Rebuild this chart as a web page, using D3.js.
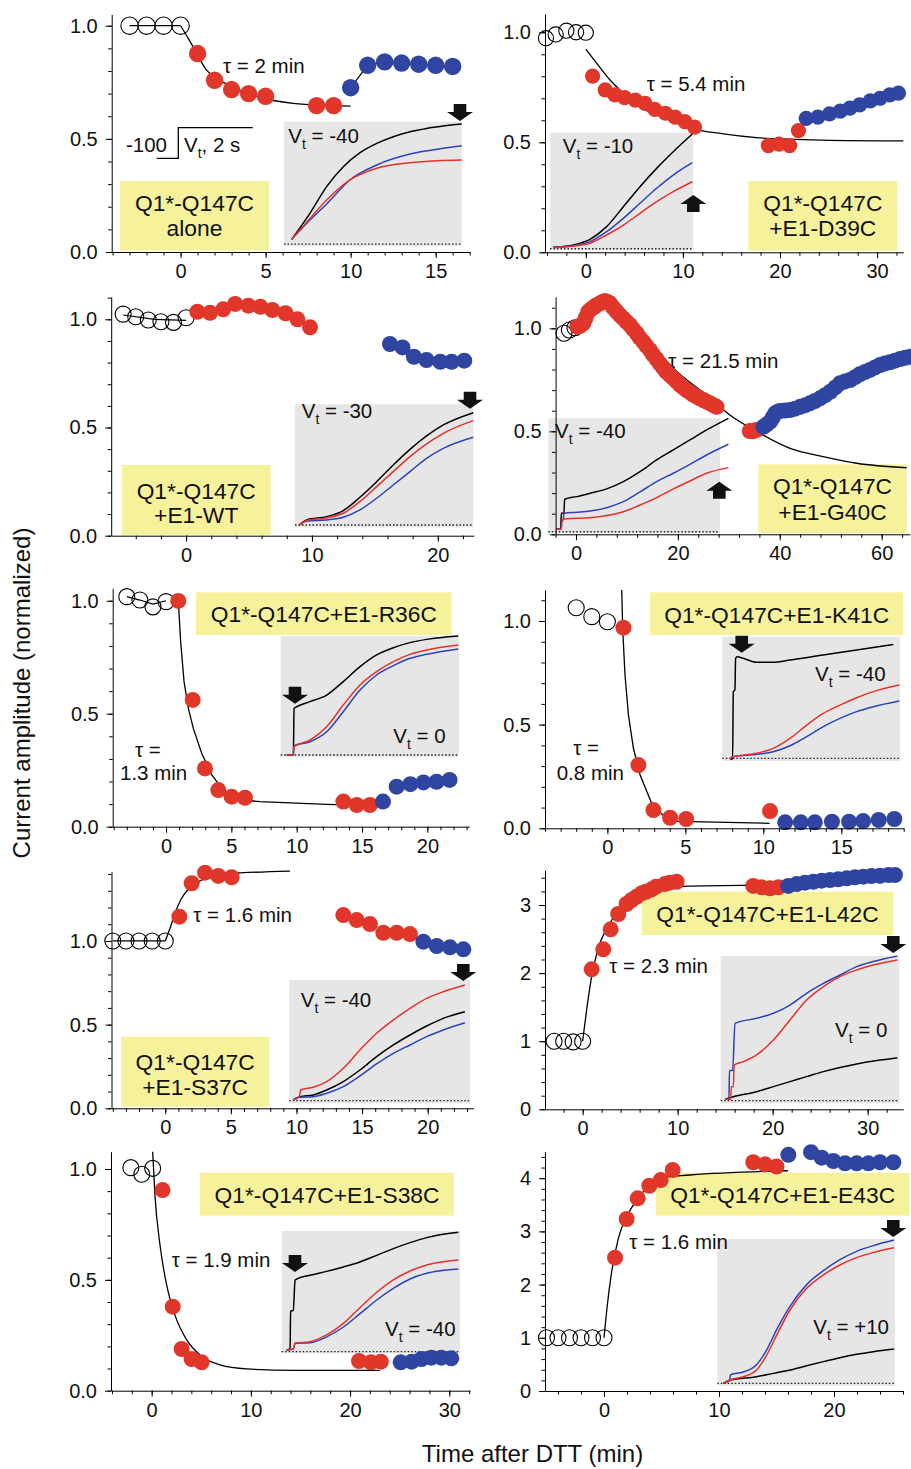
<!DOCTYPE html>
<html><head><meta charset="utf-8">
<script src="https://cdn.jsdelivr.net/npm/d3@7"></script>
<style>
body{margin:0;background:#fff}
svg{display:block}
text{font-family:"Liberation Sans",Arial,Helvetica,sans-serif;fill:#111;white-space:pre}
</style></head>
<body><svg id="c" width="911" height="1469"></svg>
<script>
// ===================== DATA =====================
// Panel 1: Q1*-Q147C alone
const p1_open=[[-3,1.0],[-2,1.0],[-1,1.0],[0,1.0]];
const p1_base=[[-3,1.0],[0,1.0]];
const p1_red=[[1,0.877],[2,0.759],[3,0.718],[4,0.700],[5,0.688],[8,0.647],[9,0.647]];
const p1_blue=[[10,0.726],[11,0.825],[12,0.840],[13,0.835],[14,0.830],[15,0.825],[16,0.820]];
const p1_fit=[[0,1.0],[0.45,0.944],[0.84,0.893],[1.53,0.804],[2.12,0.767],[2.71,0.742],[3.88,0.701],[5.06,0.675],[6.62,0.657],[8.59,0.648],[10,0.645]];
const p1_trK=[[4.3,5.1],[14.6,26.1],[24,47.6],[33.4,63.7],[42.8,75],[52.2,82.5],[61.5,87.9],[70.9,91.9],[80.3,94.6],[89.7,96.5],[100,98.1]];
const p1_trB=[[4.3,5.1],[14.6,20.7],[24,33.6],[37.1,53],[52.2,65.1],[70.9,73.9],[89.7,78.5],[100,80.6]];
const p1_trR=[[4.3,5.1],[14.6,22],[24,36.8],[37.1,53],[52.2,62.4],[70.9,66.9],[85.9,68.5],[100,69.1]];
const p1_xt=[0,5,10,15], p1_yt=[0,0.5,1.0];

// Panel 2: +E1-D39C
const p2_open=[[-4.1,0.973],[-3.1,0.99],[-2,1.007],[-1,1.0],[0,0.998]];
const p2_base=[];
const p2_red=[[0.7,0.801],[2.0,0.738],[3.0,0.715],[4.0,0.703],[5.1,0.692],[6.1,0.677],[7.1,0.65],[8.2,0.632],[9.2,0.614],[10.2,0.594],[11.2,0.569],[18.8,0.485],[19.9,0.492],[21.0,0.485],[21.9,0.553]];
const p2_blue=[[22.7,0.609],[23.9,0.614],[25.1,0.629],[26.2,0.642],[27.2,0.655],[28.2,0.67],[29.3,0.688],[30.3,0.70],[31.3,0.715],[32.2,0.723]];
const p2_fit=[[0,0.923],[1.13,0.859],[2.5,0.783],[3.87,0.723],[5.59,0.659],[7.3,0.624],[9.0,0.594],[10.7,0.566],[14.2,0.538],[17.6,0.521],[21.0,0.514],[24.4,0.51],[32.7,0.506]];
const p2_trK=[[2.3,2.3],[16.3,4.3],[27.9,9.1],[39.5,19.9],[51.2,36.9],[62.8,54],[74.4,69.6],[86,83.8],[99.3,98.9]];
const p2_trB=[[2.3,2.3],[16.3,3.7],[27.9,7.1],[39.5,15.6],[51.2,27],[62.8,39.8],[74.4,52.6],[86,63.9],[99.3,74.4]];
const p2_trR=[[2.3,2.0],[16.3,3.4],[27.9,5.7],[39.5,12.8],[51.2,21.3],[62.8,31.3],[74.4,41.2],[86,49.7],[99.3,58.2]];
const p2_xt=[0,10,20,30], p2_yt=[0,0.5,1.0];

// Panel 3: +E1-WT
const p3_open=[[-5,1.024],[-4,1.012],[-3,0.997],[-2,0.989],[-1,0.986],[0,1.007]];
const p3_base=[[-5,1.02],[-2.5,1.0],[0,0.995]];
const p3_red=[[0.9,1.035],[1.9,1.03],[2.95,1.046],[3.9,1.071],[4.95,1.063],[5.9,1.058],[6.85,1.043],[7.9,1.028],[8.85,1.0],[9.85,0.963]];
const p3_blue=[[16.2,0.886],[17.2,0.87],[18.1,0.827],[19.1,0.812],[20.2,0.804],[21.1,0.804],[22.1,0.809]];
const p3_fit=[];
const p3_trK=[[2.4,1.9],[6.5,6.0],[17.8,8.7],[27.1,13.6],[36.4,24.4],[45.8,37.1],[55.1,50.7],[64.5,63.4],[73.8,74.3],[83.2,83.2],[100,93.2]];
const p3_trR=[[2.4,1.9],[6.5,5.4],[17.8,7.6],[27.1,11.4],[36.4,20.9],[45.8,33.1],[55.1,45.3],[64.5,57.5],[73.8,67.8],[83.2,76.4],[100,86.7]];
const p3_trB=[[2.4,1.9],[6.5,4.9],[17.8,6.0],[27.1,8.1],[36.4,14.1],[45.8,23.6],[55.1,34.4],[64.5,45.3],[73.8,56.1],[83.2,64.2],[100,73.2]];
const p3_xt=[0,10,20], p3_yt=[0,0.5,1.0];

// Panel 4: +E1-G40C (densely sampled record)
const p4_open=[[-2.36,0.976],[-1.3,0.992],[-0.2,1.003]];
const p4_base=[];
const p4_red=[[0.26,1.008],[0.8,1.012],[1.44,1.024],[1.9,1.05],[2.42,1.081],[2.9,1.092],[3.4,1.10],[4.0,1.112],[4.71,1.121],[5.2,1.128],[5.69,1.133],[6.2,1.128],[6.67,1.121],[7.3,1.10],[7.98,1.081],[8.6,1.064],[9.29,1.048],[9.9,1.032],[10.6,1.016],[11.2,0.996],[11.9,0.976],[12.5,0.955],[13.2,0.935],[13.8,0.915],[14.5,0.895],[15.1,0.873],[15.8,0.851],[16.4,0.83],[17.1,0.809],[17.7,0.79],[18.4,0.773],[19.1,0.757],[19.8,0.741],[20.4,0.726],[21.1,0.712],[21.7,0.70],[22.4,0.689],[23.0,0.678],[23.7,0.668],[24.3,0.66],[25.0,0.652],[25.6,0.644],[26.3,0.636],[26.9,0.628],[27.6,0.619],[34.1,0.501],[34.7,0.50],[35.4,0.506]];
const p4_blue=[[36.8,0.522],[37.4,0.532],[38.1,0.547],[38.6,0.567],[39.1,0.587],[39.5,0.594],[40.0,0.598],[41.0,0.601],[42.0,0.603],[43.0,0.61],[44.0,0.619],[45.0,0.627],[45.9,0.636],[46.9,0.647],[47.9,0.66],[48.9,0.675],[49.9,0.692],[50.9,0.713],[51.8,0.733],[52.8,0.742],[53.8,0.749],[54.8,0.763],[55.7,0.777],[56.7,0.788],[57.7,0.798],[58.7,0.81],[59.7,0.822],[60.6,0.829],[61.6,0.835],[62.6,0.843],[63.6,0.851],[64.6,0.857],[65.6,0.862]];
const p4_fit=[[7.3,1.153],[12.56,1.0],[19.1,0.806],[25.6,0.676],[30.2,0.579],[35.5,0.498],[42,0.417],[48.5,0.377],[55.1,0.345],[64.9,0.323]];
const p4_trK=[[4.9,3.8],[7.2,3.8],[7.6,17.4],[9.1,17.4],[9.5,29.6],[16.5,31.9],[24.3,34.8],[34,38.6],[43.7,44.9],[53.4,53.6],[63.1,63.8],[72.8,72.5],[82.5,81.2],[92.2,89.9],[104.9,100]];
const p4_trB=[[4.9,3.8],[7.6,3.8],[7.9,11.6],[8.7,11.6],[9.1,17.4],[16.5,18.3],[24.3,19.4],[34,22.3],[43.7,27.5],[53.4,36],[63.1,44.9],[72.8,52.2],[82.5,60],[92.2,68.1],[104.9,77.4]];
const p4_trR=[[4.9,3.8],[7.5,3.8],[7.8,9.6],[9.1,12.5],[16.5,13],[24.3,13.6],[34,15.4],[43.7,18.8],[53.4,24.6],[63.1,31],[72.8,38.6],[82.5,45.5],[92.2,52.2],[104.9,57.1]];
const p4_xt=[0,20,40,60], p4_yt=[0,0.5,1.0];

// Panel 5: +E1-R36C
const p5_open=[[-3,1.018],[-2,1.003],[-1,0.973],[0,0.996]];
const p5_base=[[-3,1.018],[-2,1.003],[-1,0.985],[0,1.0]];
const p5_red=[[0.94,0.999],[2.04,0.561],[2.98,0.258],[4.0,0.162],[5.02,0.133],[6.04,0.128],[13.57,0.111],[14.6,0.096],[15.6,0.096]];
const p5_blue=[[16.6,0.111],[17.65,0.177],[18.7,0.188],[19.7,0.196],[20.7,0.199],[21.7,0.207]];
const p5_fit=[[0.94,1.0],[1.12,0.819],[1.38,0.642],[1.71,0.524],[2.09,0.435],[2.73,0.325],[3.5,0.229],[4.38,0.162],[4.95,0.14],[5.02,0.123],[7.19,0.111],[12.3,0.099],[15.6,0.093]];
const p5_trK=[[3.4,1.4],[7.1,1.4],[7.5,40.1],[9.0,41.4],[16.4,45.6],[25.8,51.1],[35.1,62.2],[44.5,74.6],[53.8,84.3],[63.2,90.3],[72.5,94.5],[81.9,97.2],[99.6,100]];
const p5_trR=[[3.4,1.4],[7.1,1.4],[7.5,8.3],[16.4,13.8],[25.8,24.9],[35.1,42.8],[44.5,59.4],[53.8,70.4],[63.2,78.7],[72.5,84.8],[81.9,88.4],[99.6,92.5]];
const p5_trB=[[3.4,1.4],[7.1,1.4],[7.5,9.1],[16.4,12.4],[25.8,20.7],[35.1,37.3],[44.5,55.2],[53.8,67.7],[63.2,75.4],[72.5,81.5],[81.9,84.8],[99.6,89.2]];
const p5_xt=[0,5,10,15,20], p5_yt=[0,0.5,1.0];

// Panel 6: +E1-K41C
const p6_open=[[-2,1.064],[-1,1.021],[0,0.996]];
const p6_base=[];
const p6_red=[[1.03,0.968],[1.99,0.305],[2.95,0.088],[4.02,0.051],[5.05,0.045],[10.43,0.083]];
const p6_blue=[[11.4,0.029],[12.4,0.029],[13.3,0.029],[14.4,0.032],[15.5,0.032],[16.4,0.035],[17.4,0.04],[18.4,0.045]];
const p6_fit=[[0.92,1.15],[0.98,0.964],[1.13,0.74],[1.35,0.546],[1.67,0.386],[2.1,0.257],[2.53,0.177],[2.95,0.1],[3.59,0.064],[4.02,0.035],[5.3,0.032],[10.4,0.024]];
const p6_trK=[[4.3,1.6],[5.8,1.6],[6.2,55.8],[7.1,57.1],[7.5,82.6],[8.4,83.9],[11.8,82.6],[19.3,79.4],[28.7,79.4],[38.1,81.2],[56.8,85.3],[75.6,89.3],[96.2,93.8]];
const p6_trR=[[4.3,1.6],[5.8,3.5],[15.6,5.4],[28.7,10.2],[38.1,18.2],[47.5,28.9],[56.8,38.3],[66.2,45],[75.6,50.9],[85,55.8],[99.6,61.1]];
const p6_trB=[[4.3,1.6],[5.8,3.5],[15.6,4.8],[28.7,7.5],[38.1,12.3],[47.5,19.6],[56.8,27.6],[66.2,34.3],[75.6,39.7],[85,43.7],[99.6,48.3]];
const p6_xt=[0,5,10,15], p6_yt=[0,0.5,1.0];

// Panel 7: +E1-S37C
const p7_open=[[-4,1],[-3,1],[-2,1],[-1,1],[0,1]];
const p7_base=[[-4,1],[0,1]];
const p7_red=[[1.07,1.145],[2.01,1.345],[3.03,1.408],[4.04,1.389],[5.06,1.381],[13.57,1.155],[14.59,1.125],[15.6,1.101],[16.62,1.049],[17.64,1.049],[18.65,1.041]];
const p7_blue=[[19.67,0.996],[20.69,0.97],[21.7,0.962],[22.72,0.95]];
const p7_fit=[[0,1.0],[0.36,1.076],[0.74,1.166],[1.17,1.245],[1.75,1.309],[2.39,1.348],[3.16,1.375],[3.92,1.384],[4.12,1.4],[5.95,1.408],[9.5,1.418]];
const p7_trK=[[2.2,2.7],[5.9,5.4],[13.3,6.8],[20.7,10.8],[29.9,17.6],[39.1,27],[48.3,37.8],[57.6,47.3],[66.8,55.4],[76,62.7],[85.2,68.9],[97.2,74.3]];
const p7_trR=[[2.2,2.7],[5.5,5.4],[6.3,10.8],[13.3,13],[20.7,17.6],[29.9,28.4],[39.1,43.2],[48.3,56.8],[57.6,67.6],[66.8,77],[76,85.1],[85.2,90.5],[97.2,95.9]];
const p7_trB=[[2.2,2.7],[5,4.9],[13.3,5.4],[20.7,8.1],[29.9,13.5],[39.1,22.2],[48.3,31.9],[57.6,40.5],[66.8,47.3],[76,54.1],[85.2,59.5],[97.2,65.4]];
const p7_xt=[0,5,10,15,20], p7_yt=[0,0.5,1.0];

// Panel 8: +E1-L42C
const p8_open=[[-3,1],[-2,1],[-1,0.99],[0,1]];
const p8_base=[];
const p8_red=[[0.95,2.056],[2.17,2.35],[2.95,2.643],[3.75,2.868],[4.63,3.015],[5.16,3.074],[5.68,3.122],[6.21,3.172],[6.66,3.195],[7.26,3.231],[7.72,3.269],[8.66,3.308],[9.19,3.328],[9.89,3.342],[17.96,3.28],[18.84,3.26],[19.72,3.245],[20.6,3.26]];
const p8_blue=[[21.64,3.28],[22.53,3.308],[23.4,3.328],[24.28,3.342],[25.16,3.357],[26.03,3.367],[26.9,3.377],[27.8,3.392],[28.66,3.407],[29.54,3.416],[30.4,3.426],[31.3,3.43],[32.2,3.441],[32.87,3.441]];
const p8_fit=[[0,1.0],[0.42,1.458],[0.95,1.947],[1.64,2.364],[2.53,2.657],[3.58,2.877],[4.98,3.073],[6.74,3.195],[8.49,3.26],[11.3,3.279],[21.1,3.294]];
const p8_trK=[[2.4,2.7],[7.1,4.5],[20.1,7.9],[29.5,11.3],[38.8,14.7],[48.1,18.1],[57.5,21.5],[66.8,24.3],[76.1,26.7],[87.3,29],[98.9,31]];
const p8_trR=[[2.4,2.7],[5.6,2.7],[5.9,11.3],[7.1,11.3],[7.5,26],[12.7,28.3],[20.1,32.8],[29.5,43],[38.8,56.6],[48.1,70.1],[57.5,79.2],[66.8,86],[76.1,90.5],[85.4,93.9],[98.9,97.3]];
const p8_trB=[[2.4,2.7],[4.6,2.7],[4.9,22.2],[6.7,22.2],[8.0,54.3],[20.1,57.7],[29.5,61.1],[38.8,66.7],[48.1,74.7],[57.5,81.4],[66.8,87.1],[76.1,92.8],[85.4,96.2],[98.9,100]];
const p8_xt=[0,10,20,30], p8_yt=[0,1,2,3];

// Panel 9: +E1-S38C
const p9_open=[[-2.1,1.006],[-1,0.976],[0.1,1.003]];
const p9_base=[];
const p9_red=[[1.1,0.905],[2.12,0.379],[3.02,0.188],[4.03,0.143],[5.04,0.128],[20.9,0.134],[22.1,0.128],[23.1,0.131]];
const p9_blue=[[25.1,0.128],[26.2,0.131],[27.2,0.143],[28.2,0.149],[29.2,0.149],[30.2,0.146]];
const p9_fit=[[0.1,1.078],[0.33,0.883],[0.84,0.657],[1.51,0.477],[2.35,0.341],[3.53,0.229],[4.87,0.161],[6.89,0.116],[9.58,0.098],[14.3,0.092],[23.0,0.092]];
const p9_trK=[[2.8,2.7],[4.7,3.5],[5.0,34.3],[6.5,35.1],[7.5,59.7],[8.8,61],[15.9,63.8],[25.2,67],[34.6,70.6],[43.9,74.7],[53.3,80.1],[62.6,85.6],[72,90.5],[81.3,94.6],[99.1,98.9]];
const p9_trR=[[2.8,2.7],[6.5,3.5],[7.5,8.2],[15.9,9.5],[25.2,15],[34.6,24.5],[43.9,37.3],[53.3,49.9],[62.6,60],[72,67.3],[81.3,72.2],[99.1,76.3]];
const p9_trB=[[2.8,2.7],[6.5,3.5],[7.5,8.2],[15.9,8.7],[25.2,13.4],[34.6,21.5],[43.9,32.4],[53.3,43.6],[62.6,53.1],[72,60.8],[81.3,65.4],[99.1,68.9]];
const p9_xt=[0,10,20,30], p9_yt=[0,0.5,1.0];

// Panel 10: +E1-E43C
const p10_open=[[-5,1],[-4,1],[-3,1],[-2,1],[-1,1],[0,1]];
const p10_base=[];
const p10_red=[[0.96,2.506],[1.97,3.233],[2.93,3.621],[3.94,3.858],[4.93,3.965],[5.97,4.153],[12.98,4.3],[14.0,4.26],[15.0,4.22]];
const p10_blue=[[16.03,4.44],[18.0,4.49],[18.93,4.385],[19.94,4.323],[20.96,4.28],[21.97,4.28],[22.99,4.28],[24.0,4.3],[25.16,4.3]];
const p10_fit=[[0,1.0],[0.29,1.617],[0.67,2.243],[1.25,2.87],[1.97,3.276],[2.84,3.59],[3.71,3.81],[4.72,3.934],[4.93,4.01],[7.48,4.06],[16.0,4.14]];
const p10_trK=[[3.4,1.6],[7.1,3.9],[22.1,6.1],[31.5,8.4],[40.9,10.7],[50.3,13.6],[59.7,16.4],[69,19.1],[78.4,21.4],[87.8,23.2],[99.4,25]];
const p10_trR=[[3.4,1.6],[7.1,3.9],[14.6,6.1],[22.1,10.7],[27.8,20.9],[33.4,34.5],[40.9,51.6],[50.3,66.4],[59.7,75.5],[69,82.3],[78.4,87.3],[87.8,90.9],[99.4,94.1]];
const p10_trB=[[3.4,1.6],[6.8,3.2],[7.5,7.5],[14.6,9.3],[22.1,14.3],[27.8,24.5],[33.4,38.2],[40.9,54.1],[50.3,68.9],[59.7,78.4],[69,85.9],[78.4,91.6],[87.8,95.5],[99.4,99.3]];
const p10_xt=[0,10,20], p10_yt=[0,1,2,3,4];

// ===================== LAYOUT =====================
const RED='#e1362a', BLUE='#2f45a1', YEL='#f6f29c', GRAY='#e6e6e6', TRED='#e8302a', TBLUE='#2c42bd';
const F_TICK=20, F_LBL=22.8, F_ANN=20.5, F_TITLE=24;

const panels=[
 {d:{open:p1_open,base:p1_base,red:p1_red,blue:p1_blue,fit:p1_fit,trK:p1_trK,trB:p1_trB,trR:p1_trR,xt:p1_xt,yt:p1_yt},
  px:[111.7,469.7],py:[252,14.4],xDom:[-4.05,17],yDom:[0,1.05],xm:1,ym:0.1,fmt:'.1f',r:8.7,blueLine:true,
  inset:[284,121.7,461.7,245.7],dot:1.3,box:[120,181,269,250.7],lines:['Q1*-Q147C','alone'],base:[211,235.5],
  tau:[['τ = 2 min',223,72.7]],vt:['-40',288.3,143.3],arrow:[460,104,'down']},
 {d:{open:p2_open,base:p2_base,red:p2_red,blue:p2_blue,fit:p2_fit,trK:p2_trK,trB:p2_trB,trR:p2_trR,xt:p2_xt,yt:p2_yt},
  px:[545,903.3],py:[252.3,14],xDom:[-4.2,32.7],yDom:[0,1.083],xm:2,ym:0.1,fmt:'.1f',r:7.6,
  inset:[550,132.7,693.3,250],dot:1.1,box:[748.3,181,897.3,250.7],lines:['Q1*-Q147C','+E1-D39C'],base:[211,235.5],
  tau:[['τ = 5.4 min',646.7,90.7]],vt:['-10',562.7,153.3],arrow:[693.3,195,'up']},
 {d:{open:p3_open,base:p3_base,red:p3_red,blue:p3_blue,fit:p3_fit,trK:p3_trK,trB:p3_trB,trR:p3_trR,xt:p3_xt,yt:p3_yt},
  px:[111.2,473.8],py:[535.7,296.8],xDom:[-5.95,22.86],yDom:[0,1.104],xm:2,ym:0.1,fmt:'.1f',r:8,
  inset:[295,404.3,473.3,527.3],dot:1.9,box:[121.7,465,270.7,535],lines:['Q1*-Q147C','+E1-WT'],base:[498.5,523],
  tau:[],vt:['-30',301.7,418.3],arrow:[470,391.7,'down']},
 {d:{open:p4_open,base:p4_base,red:p4_red,blue:p4_blue,fit:p4_fit,trK:p4_trK,trB:p4_trB,trR:p4_trR,xt:p4_xt,yt:p4_yt},
  px:[555.6,909.7],py:[534.3,296.8],xDom:[-4,65.5],yDom:[0,1.153],xm:4,ym:0.1,fmt:'.1f',r:8,
  inset:[548.3,418.3,720,533.3],dot:1.4,box:[758.3,464.3,906.7,533.3],lines:['Q1*-Q147C','+E1-G40C'],base:[493.5,519.5],
  tau:[['τ = 21.5 min',668.3,367.7]],vt:['-40',555,438.3],arrow:[719.3,481.7,'up']},
 {d:{open:p5_open,base:p5_base,red:p5_red,blue:p5_blue,fit:p5_fit,trK:p5_trK,trB:p5_trB,trR:p5_trR,xt:p5_xt,yt:p5_yt},
  px:[112.7,469.2],py:[826.7,588.3],xDom:[-4.08,23.2],yDom:[0,1.055],xm:1,ym:0.1,fmt:'.1f',r:8,linearFit:true,
  inset:[280.7,636,459,756.7],dot:1.4,box:[196,592.3,451.7,635],lines:['Q1*-Q147C+E1-R36C'],base:[621.7],
  tau:[['τ =',135,756.7],['1.3 min',120,780]],vt:['0',393.3,743.3],arrow:[295,686.7,'down']},
 {d:{open:p6_open,base:p6_base,red:p6_red,blue:p6_blue,fit:p6_fit,trK:p6_trK,trB:p6_trB,trR:p6_trR,xt:p6_xt,yt:p6_yt},
  px:[545,903.7],py:[828.3,589.9],xDom:[-4,19],yDom:[0,1.15],xm:1,ym:0.1,fmt:'.1f',r:8,linearFit:true,
  inset:[722.3,636.7,900,761],dot:2.1,box:[650,592.3,903.3,635],lines:['Q1*-Q147C+E1-K41C'],base:[623],
  tau:[['τ =',573.3,755],['0.8 min',556.7,780]],vt:['-40',815,681],arrow:[741.7,635.7,'down']},
 {d:{open:p7_open,base:p7_base,red:p7_red,blue:p7_blue,fit:p7_fit,trK:p7_trK,trB:p7_trB,trR:p7_trR,xt:p7_xt,yt:p7_yt},
  px:[111.5,473.6],py:[1108.3,871.7],xDom:[-4.1,23.5],yDom:[0,1.414],xm:1,ym:0.1,fmt:'.1f',r:8,
  inset:[289.3,980,470,1103.3],dot:2.2,box:[121,1036.7,269.3,1106.7],lines:['Q1*-Q147C','+E1-S37C'],base:[1069.5,1095],
  tau:[['τ = 1.6 min',193.3,921.7]],vt:['-40',300.7,1006.7],arrow:[463.3,964,'down']},
 {d:{open:p8_open,base:p8_base,red:p8_red,blue:p8_blue,fit:p8_fit,trK:p8_trK,trB:p8_trB,trR:p8_trR,xt:p8_xt,yt:p8_yt},
  px:[545,903.3],py:[1109.3,870.3],xDom:[-3.96,33.75],yDom:[0,3.51],xm:2,ym:0.2,fmt:'d',r:8,
  inset:[720.7,956,899.3,1103.3],dot:1.8,box:[641.7,891.7,893.3,935],lines:['Q1*-Q147C+E1-L42C'],base:[922],
  tau:[['τ = 2.3 min',609.3,973.3]],vt:['0',835,1036.7],arrow:[893.3,936,'down']},
 {d:{open:p9_open,base:p9_base,red:p9_red,blue:p9_blue,fit:p9_fit,trK:p9_trK,trB:p9_trB,trR:p9_trR,xt:p9_xt,yt:p9_yt},
  px:[111,470.1],py:[1390.7,1151.7],xDom:[-4.1,32.1],yDom:[0,1.078],xm:2,ym:0.1,fmt:'.1f',r:8,
  inset:[281.7,1231,460,1353.3],dot:1.4,box:[200,1172.7,454,1215.7],lines:['Q1*-Q147C+E1-S38C'],base:[1203],
  tau:[['τ = 1.9 min',171.7,1266.7]],vt:['-40',385,1335.7],arrow:[295,1255,'down']},
 {d:{open:p10_open,base:p10_base,red:p10_red,blue:p10_blue,fit:p10_fit,trK:p10_trK,trB:p10_trB,trR:p10_trR,xt:p10_xt,yt:p10_yt},
  px:[545,903],py:[1391,1151.6],xDom:[-5.13,26],yDom:[0,4.5],xm:2,ym:0.2,fmt:'d',r:8,
  inset:[717.3,1239,895,1385.7],dot:1.6,box:[656,1172.7,909.3,1215.7],lines:['Q1*-Q147C+E1-E43C'],base:[1203],
  tau:[['τ = 1.6 min',629.3,1249]],vt:['+10',813.3,1334.3],arrow:[893.3,1220,'down']}
];

// ===================== DRAW =====================
const svg=d3.select('#c');

function arrowPath(cx,ty,dir){
  const sw=6.3,hw=13,sh=8,hh=9;
  if(dir==='down') return `M${cx-sw},${ty}H${cx+sw}V${ty+sh}H${cx+hw}L${cx},${ty+sh+hh}L${cx-hw},${ty+sh}H${cx-sw}Z`;
  return `M${cx},${ty}L${cx+hw},${ty+hh}H${cx+sw}V${ty+hh+sh}H${cx-sw}V${ty+hh}H${cx-hw}Z`;
}

panels.forEach(P=>{
  const D=P.d;
  const g=svg.append('g');
  const x=d3.scaleLinear().domain(P.xDom).range(P.px);
  const y=d3.scaleLinear().domain(P.yDom).range(P.py);
  const ix=d3.scaleLinear().domain([0,100]).range([P.inset[0],P.inset[2]]);
  const iy=d3.scaleLinear().domain([0,100]).range([P.inset[3],P.inset[1]]);

  // yellow label box
  g.append('rect').attr('x',P.box[0]).attr('y',P.box[1]).attr('width',P.box[2]-P.box[0]).attr('height',P.box[3]-P.box[1]).attr('fill',YEL);
  P.lines.forEach((t,i)=>g.append('text').attr('x',(P.box[0]+P.box[2])/2).attr('y',P.base[i]).attr('text-anchor','middle').attr('font-size',F_LBL).text(t));

  // inset
  g.append('rect').attr('x',P.inset[0]).attr('y',P.inset[1]).attr('width',P.inset[2]-P.inset[0]).attr('height',P.inset[3]-P.inset[1]).attr('fill',GRAY);
  const lin=d3.line().x(d=>ix(d[0])).y(d=>iy(d[1]));
  g.append('path').attr('d',lin([[0,P.dot],[99.5,P.dot]])).attr('stroke','#222').attr('stroke-width',1.4).attr('stroke-dasharray','1.5,2').attr('fill','none');
  const tl=d3.line().x(d=>ix(d[0])).y(d=>iy(d[1])).curve(d3.curveMonotoneX);
  [[D.trK,'#000'],[D.trB,TBLUE],[D.trR,TRED]].forEach(([dd,c])=>
    g.append('path').attr('d',tl(dd)).attr('fill','none').attr('stroke',c).attr('stroke-width',1.5));
  const vt=g.append('text').attr('x',P.vt[1]).attr('y',P.vt[2]).attr('font-size',F_ANN);
  vt.append('tspan').text('V');
  vt.append('tspan').attr('font-size',14).attr('dy',6).text('t');
  vt.append('tspan').attr('dy',-6).text(' = '+P.vt[0]);
  g.append('path').attr('d',arrowPath(P.arrow[0],P.arrow[1],P.arrow[2])).attr('fill','#111');

  // tau annotation (beneath circles)
  P.tau.forEach(t=>g.append('text').attr('x',t[1]).attr('y',t[2]).attr('font-size',F_ANN).text(t[0]));

  // lines
  const dl=d3.line().x(d=>x(d[0])).y(d=>y(d[1]));
  const fl=d3.line().x(d=>x(d[0])).y(d=>y(d[1])).curve(P.linearFit?d3.curveLinear:d3.curveMonotoneX);
  if(D.fit.length) g.append('path').attr('d',fl(D.fit)).attr('fill','none').attr('stroke','#000').attr('stroke-width',1.3);
  if(D.base.length) g.append('path').attr('d',dl(D.base)).attr('fill','none').attr('stroke','#000').attr('stroke-width',1.2);
  if(P.blueLine) g.append('path').attr('d',dl(D.blue)).attr('fill','none').attr('stroke','#000').attr('stroke-width',1.2);

  // circles
  g.selectAll('.o').data(D.open).join('circle').attr('cx',d=>x(d[0])).attr('cy',d=>y(d[1])).attr('r',P.r)
    .attr('fill','none').attr('stroke','#000').attr('stroke-width',1.1);
  g.selectAll('.rd').data(D.red).join('circle').attr('cx',d=>x(d[0])).attr('cy',d=>y(d[1])).attr('r',P.r).attr('fill',RED);
  g.selectAll('.bl').data(D.blue).join('circle').attr('cx',d=>x(d[0])).attr('cy',d=>y(d[1])).attr('r',P.r).attr('fill',BLUE);

  // axes
  const fmt=d3.format(P.fmt);
  const styleAx=a=>{a.attr('font-size',F_TICK).attr('font-family','"Liberation Sans",Arial,sans-serif');a.selectAll('text').attr('fill','#111');a.selectAll('line,path').attr('stroke','#000');};
  const yMinor=d3.range(0,P.yDom[1]+1e-9,P.ym);
  const xMinor=d3.range(Math.ceil(P.xDom[0]/P.xm)*P.xm,P.xDom[1]+1e-9,P.xm);
  g.append('g').attr('transform',`translate(${P.px[0]},0)`)
    .call(d3.axisLeft(y).tickValues(yMinor).tickFormat(()=>'').tickSize(3.5).tickSizeOuter(0))
    .call(a=>a.select('.domain').remove()).call(styleAx);
  g.append('g').attr('transform',`translate(0,${P.py[0]})`)
    .call(d3.axisBottom(x).tickValues(xMinor).tickFormat(()=>'').tickSize(3.5).tickSizeOuter(0))
    .call(a=>a.select('.domain').remove()).call(styleAx);
  g.append('g').attr('transform',`translate(${P.px[0]},0)`)
    .call(d3.axisLeft(y).tickValues(D.yt).tickFormat(fmt).tickSize(6).tickSizeOuter(0).tickPadding(8)).call(styleAx);
  g.append('g').attr('transform',`translate(0,${P.py[0]})`)
    .call(d3.axisBottom(x).tickValues(D.xt).tickFormat(d3.format('d')).tickSize(6).tickSizeOuter(0).tickPadding(6)).call(styleAx);
});

// scale bar annotation in panel 1
const sb=svg.append('g').attr('stroke','#000').attr('stroke-width',1.3).attr('fill','none');
sb.append('path').attr('d','M156.7,158.3H178.3V127.7H252.7');
svg.append('text').attr('x',167).attr('y',151.7).attr('text-anchor','end').attr('font-size',F_ANN).text('-100');
const sbt=svg.append('text').attr('x',184).attr('y',151.7).attr('font-size',F_ANN);
sbt.append('tspan').text('V');
sbt.append('tspan').attr('font-size',14).attr('dy',6).text('t');
sbt.append('tspan').attr('dy',-6).text(', 2 s');

// axis titles
svg.append('text').attr('transform','translate(30,693) rotate(-90)').attr('text-anchor','middle').attr('font-size',F_TITLE).text('Current amplitude (normalized)');
svg.append('text').attr('x',532.5).attr('y',1461.7).attr('text-anchor','middle').attr('font-size',F_TITLE).text('Time after DTT (min)');
</script>
</body></html>
